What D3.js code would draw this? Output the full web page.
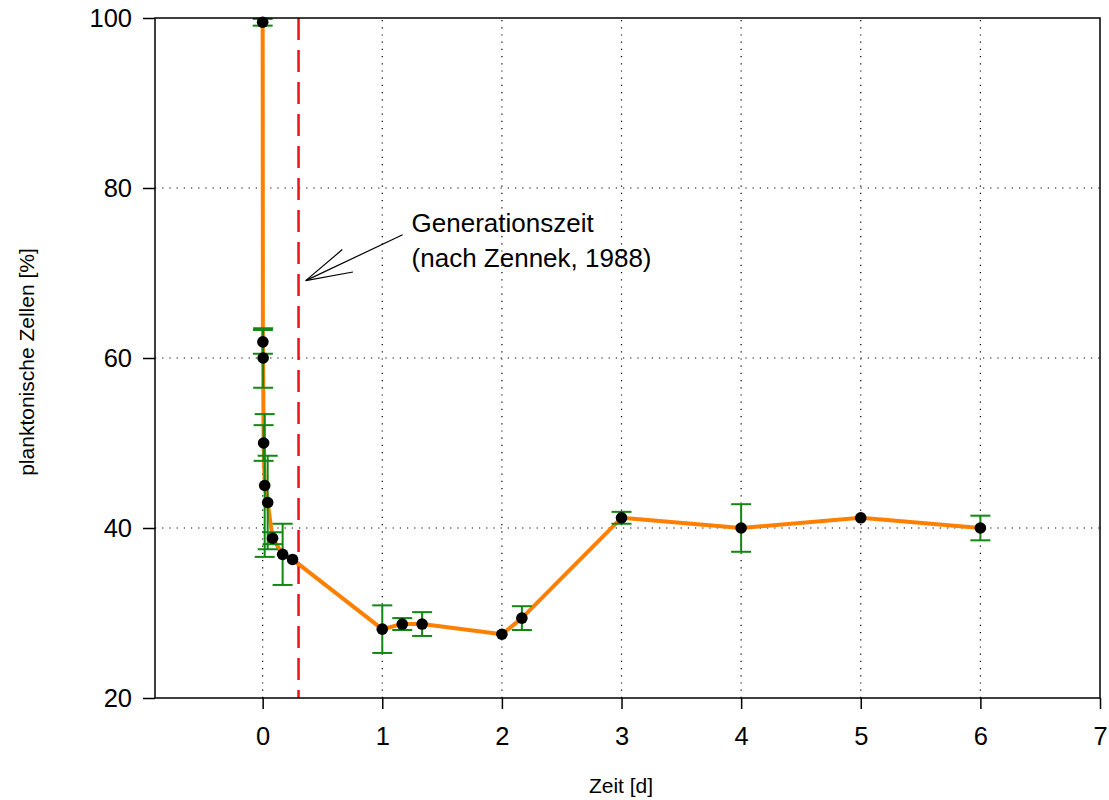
<!DOCTYPE html>
<html>
<head>
<meta charset="utf-8">
<script src="https://cdn.jsdelivr.net/npm/d3@7"></script>
<style>
  body { margin: 0; background: #fff; }
  svg { display: block; font-family: "Liberation Sans", Arial, sans-serif; }
</style>
</head>
<body>
<script>
// Zeit in Tagen, planktonische Zellen in %, Fehler (+/-) in %
const timeD   = [0, 0.002, 0.004, 0.008, 0.017, 0.042, 0.083, 0.167, 0.25, 1, 1.167, 1.333, 2, 2.167, 3, 4, 5, 6];
const cellPct = [99.5, 61.9, 60.0, 50.0, 45.0, 43.0, 38.8, 36.9, 36.3, 28.1, 28.7, 28.7, 27.5, 29.4, 41.2, 40.0, 41.2, 40.0];
const errPct  = [0.4, 1.4, 3.5, 2.1, 8.4, 5.5, 0.7, 3.6, 0, 2.8, 0.7, 1.4, 0, 1.4, 0.7, 2.8, 0, 1.45];

const xTicks = [0, 1, 2, 3, 4, 5, 6, 7];
const yTicks = [20, 40, 60, 80, 100];
const xGrid = [0, 1, 2, 3, 4, 5, 6];
const yGrid = [40, 60, 80];

const genTime = 0.3; // Generationszeit nach Zennek
const noteLines = ["Generationszeit", "(nach Zennek, 1988)"];
const noteAt = [1.245, 74.86];     // text anchor (data)
const arrowFrom = [1.17, 74.5];    // data
const arrowTo = [0.36, 69.1];      // data

const W = 1109, H = 800;
const svg = d3.select("body").append("svg").attr("width", W).attr("height", H);

const x = d3.scaleLinear().domain([-0.9, 7]).range([155, 1100]);
const y = d3.scaleLinear().domain([20, 100]).range([698, 18]);

// grid
svg.append("g").selectAll("line").data(xGrid).join("line")
  .attr("x1", d => x(d)).attr("x2", d => x(d))
  .attr("y1", y(20)).attr("y2", y(100))
  .attr("stroke", "#000").attr("stroke-width", 1.2).attr("stroke-dasharray", "1.2,6");
svg.append("g").selectAll("line").data(yGrid).join("line")
  .attr("x1", x(-0.9)).attr("x2", x(7))
  .attr("y1", d => y(d)).attr("y2", d => y(d))
  .attr("stroke", "#000").attr("stroke-width", 1.2).attr("stroke-dasharray", "1.2,6");

// generation time
svg.append("line")
  .attr("x1", x(genTime)).attr("x2", x(genTime))
  .attr("y1", y(100)).attr("y2", y(20))
  .attr("stroke", "#ee1111").attr("stroke-width", 2.5).attr("stroke-dasharray", "22,10");

const pts = timeD.map((t, i) => ({ t, v: cellPct[i], e: errPct[i] }));

// curve
svg.append("path").datum(pts)
  .attr("fill", "none").attr("stroke", "#ff8000").attr("stroke-width", 4)
  .attr("stroke-linejoin", "round")
  .attr("d", d3.line().x(d => x(d.t)).y(d => y(d.v)));

// error bars
const eb = svg.append("g").attr("stroke", "#118811").attr("stroke-width", 2);
const withErr = pts.filter(d => d.e > 0);
eb.selectAll(".v").data(withErr).join("line")
  .attr("x1", d => x(d.t)).attr("x2", d => x(d.t))
  .attr("y1", d => y(d.v - d.e)).attr("y2", d => y(d.v + d.e));
eb.selectAll(".top").data(withErr).join("line")
  .attr("x1", d => x(d.t) - 10).attr("x2", d => x(d.t) + 10)
  .attr("y1", d => y(d.v + d.e)).attr("y2", d => y(d.v + d.e));
eb.selectAll(".bot").data(withErr).join("line")
  .attr("x1", d => x(d.t) - 10).attr("x2", d => x(d.t) + 10)
  .attr("y1", d => y(d.v - d.e)).attr("y2", d => y(d.v - d.e));

// points
svg.append("g").selectAll("circle").data(pts).join("circle")
  .attr("cx", d => x(d.t)).attr("cy", d => y(d.v)).attr("r", 5.8).attr("fill", "#000");

// frame
svg.append("rect")
  .attr("x", x(-0.9)).attr("y", y(100))
  .attr("width", x(7) - x(-0.9)).attr("height", y(20) - y(100))
  .attr("fill", "none").attr("stroke", "#000").attr("stroke-width", 1.5);

// axes
const xAxis = d3.axisBottom(x).tickValues(xTicks).tickSize(11).tickPadding(18).tickFormat(d3.format("d"));
const gx = svg.append("g").attr("transform", `translate(0,${y(20)})`).call(xAxis);
const yAxis = d3.axisLeft(y).tickValues(yTicks).tickSize(12).tickPadding(11).tickFormat(d3.format("d"));
const gy = svg.append("g").attr("transform", `translate(${x(-0.9)},0)`).call(yAxis);
[gx, gy].forEach(g => {
  g.select(".domain").remove();
  g.selectAll(".tick line").attr("stroke", "#000").attr("stroke-width", 1.5);
  g.selectAll(".tick text").attr("fill", "#000")
    .style("font-family", "'Liberation Sans', Arial, sans-serif").style("font-size", "25.5px");
});

// axis titles
svg.append("text")
  .attr("x", 621).attr("y", 793).attr("text-anchor", "middle")
  .attr("font-size", 21).attr("fill", "#000")
  .text("Zeit [d]");
svg.append("text")
  .attr("transform", "translate(34,362) rotate(-90)")
  .attr("text-anchor", "middle")
  .attr("font-size", 21).attr("fill", "#000")
  .text("planktonische Zellen [%]");

// annotation
const note = svg.append("text").attr("font-size", 26).attr("fill", "#000");
noteLines.forEach((t, i) => {
  note.append("tspan").attr("x", x(noteAt[0])).attr("y", y(noteAt[1]) + i * 35).text(t);
});
const tx = x(arrowTo[0]), ty = y(arrowTo[1]);
const fx = x(arrowFrom[0]), fy = y(arrowFrom[1]);
const ang = Math.atan2(fy - ty, fx - tx);
const headLen = 48, spread = 15 * Math.PI / 180;
const arrow = svg.append("g").attr("stroke", "#000").attr("stroke-width", 1.2).attr("fill", "none");
arrow.append("line").attr("x1", fx).attr("y1", fy).attr("x2", tx).attr("y2", ty);
[-spread, spread].forEach(s => {
  arrow.append("line").attr("x1", tx).attr("y1", ty)
    .attr("x2", tx + headLen * Math.cos(ang + s))
    .attr("y2", ty + headLen * Math.sin(ang + s));
});
</script>
</body>
</html>
